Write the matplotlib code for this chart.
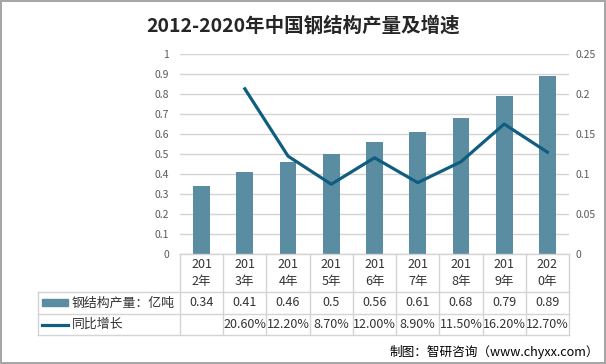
import matplotlib.pyplot as plt
from matplotlib.patches import Rectangle
from matplotlib.lines import Line2D

plt.rcParams['font.family'] = ['Noto Sans CJK SC', 'DejaVu Sans']

years = ["2012年", "2013年", "2014年", "2015年", "2016年", "2017年", "2018年", "2019年", "2020年"]
output = [0.34, 0.41, 0.46, 0.5, 0.56, 0.61, 0.68, 0.79, 0.89]
growth = [None, 0.206, 0.122, 0.087, 0.120, 0.089, 0.115, 0.162, 0.127]
output_labels = ["0.34", "0.41", "0.46", "0.5", "0.56", "0.61", "0.68", "0.79", "0.89"]
growth_labels = ["", "20.60%", "12.20%", "8.70%", "12.00%", "8.90%", "11.50%", "16.20%", "12.70%"]

bar_color = "#5A8DA2"
line_color = "#105E7F"
grid_color = "#D4D4D4"
tick_color = "#595959"
text_color = "#333333"

W, H = 606, 364
fig = plt.figure(figsize=(W / 100, H / 100), dpi=100)
fig.patch.set_edgecolor("#A6A6A6")
fig.patch.set_linewidth(1.5)

left, right, top, bottom = 180, 569, 53.5, 254
ax = fig.add_axes([left / W, 1 - bottom / H, (right - left) / W, (bottom - top) / H])
ax2 = ax.twinx()

x = list(range(len(years)))
ax.bar(x, output, width=0.39, color=bar_color, zorder=2)
ax.set_xlim(-0.5, len(years) - 0.5)
ax.set_ylim(0, 1)
ax.set_yticks([i / 10 for i in range(11)])
ax.set_yticklabels(["0", "0.1", "0.2", "0.3", "0.4", "0.5", "0.6", "0.7", "0.8", "0.9", "1"])
ax.set_xticks([])

gx = [i for i, g in enumerate(growth) if g is not None]
gy = [g for g in growth if g is not None]
ax2.plot(gx, gy, color=line_color, linewidth=2.3, zorder=3)
ax2.set_ylim(0, 0.25)
ax2.set_yticks([0, 0.05, 0.1, 0.15, 0.2, 0.25])
ax2.set_yticklabels(["0", "0.05", "0.1", "0.15", "0.2", "0.25"])

for a in (ax, ax2):
    for s in a.spines.values():
        s.set_visible(False)
    a.tick_params(axis="y", length=0, labelsize=7.5, labelcolor=tick_color)
ax.tick_params(axis="y", pad=8)
ax2.tick_params(axis="y", pad=4.5)
ax.set_axisbelow(True)
ax.grid(axis="y", color=grid_color, linewidth=1)

# table below the axis
def ay(py):
    return (bottom - py) / (bottom - top)

def axx(px):
    return (px - left) / (right - left)

rows = [254, 292, 314, 335]
tleft = 37.5
lkw = dict(color=grid_color, linewidth=1, transform=ax.transAxes, clip_on=False)
for i in range(len(years) + 1):
    xa = i / len(years)
    ax.add_line(Line2D([xa, xa], [ay(rows[0]), ay(rows[3])], **lkw))
ax.add_line(Line2D([axx(tleft), axx(tleft)], [ay(rows[1]), ay(rows[3])], **lkw))
ax.add_line(Line2D([0, 1], [ay(rows[0]), ay(rows[0])], **lkw))
for r in rows[1:]:
    ax.add_line(Line2D([axx(tleft), 1], [ay(r), ay(r)], **lkw))

tkw = dict(transform=ax.transAxes, ha="center", va="center", fontsize=9, color=text_color)
for i, yr in enumerate(years):
    xa = (i + 0.5) / len(years)
    ax.text(xa, ay((rows[0] + rows[1]) / 2), yr[:3] + "\n" + yr[3:], linespacing=1.35, **tkw)
    ax.text(xa, ay((rows[1] + rows[2]) / 2), output_labels[i], **tkw)
    ax.text(xa, ay((rows[2] + rows[3]) / 2), growth_labels[i], **tkw)

ax.add_patch(Rectangle((axx(42), ay(305.7)), axx(68) - axx(42), ay(299.3) - ay(305.7),
                       transform=ax.transAxes, color=bar_color, clip_on=False))
ax.add_line(Line2D([axx(42), axx(68)], [ay(324.5), ay(324.5)], color=line_color, linewidth=2.3,
                   transform=ax.transAxes, clip_on=False))
ax.text(axx(72), ay((rows[1] + rows[2]) / 2), "钢结构产量：亿吨", transform=ax.transAxes,
        ha="left", va="center", fontsize=9.3, color=text_color)
ax.text(axx(72), ay((rows[2] + rows[3]) / 2), "同比增长", transform=ax.transAxes,
        ha="left", va="center", fontsize=9.3, color=text_color)

fig.text(0.5, 1 - 26 / H, "2012-2020年中国钢结构产量及增速", ha="center", va="center",
         fontsize=14, fontweight="bold", color="#262626")
fig.text(599 / W, 1 - 352 / H, "制图：智研咨询（www.chyxx.com）", ha="right", va="center",
         fontsize=9.1, color="#000000")

fig.savefig("out.png", dpi=100)
